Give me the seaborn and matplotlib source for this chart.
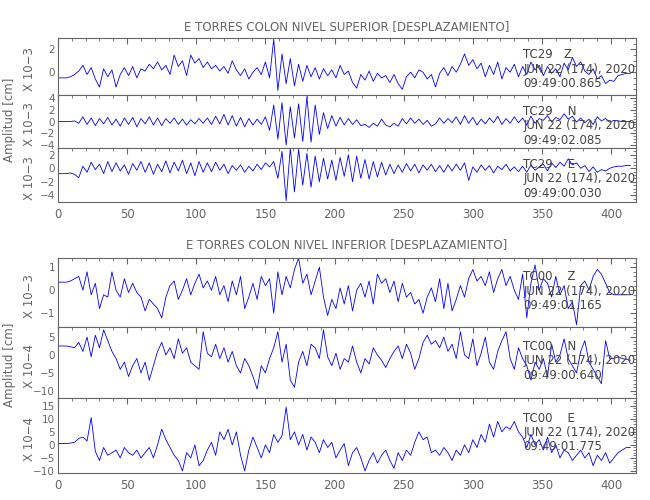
import numpy as np
import pandas as pd
import matplotlib
matplotlib.use("Agg")
import matplotlib.pyplot as plt
import seaborn as sns

sns.set_style("white")
plt.rcParams['font.family'] = ['DejaVu Sans']

step = 3.0
z29 = [-0.5,-0.5,-0.5,-0.4,-0.2,
 0.1,0.6,-0.2,0.4,-0.6,-1.3,0.3,-0.4,0.2,-1.3,-0.2,0.4,-0.3,0.5,-0.5,0.3,0.1,0.7,0.3,0.9,0.2,0.6,-0.2,1.5,0.5,1.0,-0.3,1.5,0.8,1.2,0.4,
 0.9,0.3,0.6,0.1,0.5,-0.1,1.0,0.2,-0.3,0.3,-0.6,0.0,0.4,-0.2,0.9,
 -0.5,2.9,-1.6,1.6,-1.0,1.2,-1.2,0.7,-0.8,0.6,-0.4,0.4,-0.6,0.3,-0.3,
 0.2,-0.5,0.6,-0.2,0.1,-0.9,-1.4,-0.2,-0.7,0.1,-0.8,-0.1,-0.5,-0.3,-0.9,
 -0.2,-1.0,-1.5,-0.4,0.0,-0.5,0.2,0.0,-0.6,-0.2,-1.3,-0.1,0.4,-0.3,0.5,
 0.0,0.7,1.6,0.6,1.1,0.3,0.8,-0.4,0.6,-0.2,0.9,-0.6,0.4,0.0,0.7,
 -0.4,0.5,-0.2,0.9,0.2,0.6,-0.3,0.5,-0.1,0.3,-0.4,0.8,0.2,1.3,0.5,
 0.9,0.1,-0.2,0.3,-0.6,-0.3,-1.0,-0.7,-0.8,-0.3,-0.2,-0.1,-0.1]
n29 = [0,0,0,0,0.1,
 -0.3,0.8,-0.5,0.6,-0.7,0.5,-0.4,0.7,-0.6,0.4,-0.8,0.6,-0.5,0.7,-0.9,0.5,-0.4,0.8,-0.6,0.6,-0.7,0.5,-0.3,0.6,-0.5,0.4,-0.6,0.3,-0.4,0.5,-0.3,
 0.6,-0.5,0.9,-0.4,1.2,-0.6,1.0,-0.8,0.7,-0.9,0.5,-0.6,0.4,-0.5,0.8,
 -1.5,2.8,-3.0,3.2,-4.0,2.5,-2.8,3.0,-3.4,4.2,-3.5,2.8,-2.2,1.5,-1.2,
 1.0,-0.8,0.7,-0.6,0.5,-0.5,0.3,-0.7,-0.5,-1.0,-0.3,-0.8,0.4,-0.6,-0.9,
 -0.3,-0.8,0.5,-0.4,0.6,-0.3,0.4,-0.5,0.2,-0.8,-0.4,0.6,-0.3,0.5,-0.2,
 0.8,-0.5,1.0,-0.3,0.7,-0.6,0.4,-0.4,0.6,-0.2,0.9,-0.5,0.5,-0.3,0.8,
 -0.2,0.6,-0.6,0.9,-0.3,0.5,0.2,1.0,-0.1,0.7,0.3,1.3,0.4,0.9,-0.1,
 0.6,-0.2,0.4,-0.5,0.8,0.1,0.5,-0.1,0.2,0.1,0.0,0.0,0.0]
e29 = [-0.8,-0.8,-0.8,-0.7,-0.9,
 -1.4,0.3,-0.6,0.9,-0.2,0.6,-0.8,1.0,-0.5,0.8,-0.4,0.5,-0.9,0.7,-0.3,1.0,-0.6,0.8,-0.9,0.6,-0.5,1.1,-0.7,0.9,-0.4,1.2,-0.8,0.8,-1.1,1.0,-0.6,
 0.8,-0.5,0.9,-0.3,0.6,-0.8,0.4,-0.3,0.5,-0.6,0.3,-0.4,0.6,-0.2,0.8,
 0.2,1.0,-1.5,2.5,-4.8,3.0,-3.5,2.8,-2.5,2.2,-2.8,1.8,-2.0,1.5,-1.6,
 1.2,-1.8,1.6,-1.2,2.0,-2.0,1.8,-1.5,1.3,-1.6,1.0,-1.3,0.9,-1.0,0.6,
 -0.8,0.5,-0.6,0.7,-0.4,0.6,-0.7,0.5,-0.3,0.6,-0.5,0.4,-0.6,0.5,-0.4,
 0.6,-0.3,0.8,-1.8,0.2,-0.6,0.5,-0.3,0.4,-0.7,0.3,-0.2,0.6,-0.4,0.2,
 -0.5,0.3,-0.6,0.5,-0.3,0.2,0.6,-0.4,0.8,0.1,0.9,0.3,1.4,0.5,0.8,
 0.0,0.4,-0.5,0.2,-0.6,-0.2,-0.4,0.0,0.2,0.3,0.3,0.4,0.4]
z00 = [0.35,0.35,0.35,0.4,0.5,
 0.6,0.0,0.8,-0.2,0.3,-0.8,-0.2,-0.3,0.8,0.0,-0.3,0.5,-0.1,0.3,-0.1,-0.3,-0.9,-0.4,-0.6,-0.8,-1.2,-0.3,0.2,0.4,-0.4,0.0,0.5,-0.2,0.3,0.7,0.1,
 0.4,0.0,0.6,-0.2,0.2,-0.5,0.4,-0.2,0.6,-0.8,-0.3,0.3,-0.4,0.6,0.2,
 0.5,-1.0,0.8,-0.2,0.6,0.1,0.9,1.4,0.3,0.7,-0.2,0.4,1.0,-0.3,-1.1,
 -0.4,-0.8,0.1,-0.6,0.2,-0.9,0.0,0.3,-0.3,0.4,-0.6,0.7,0.3,0.5,-0.1,
 0.4,-0.5,0.3,-0.3,-0.1,-0.6,-0.4,-1.0,-0.3,0.1,-0.5,0.5,-0.8,0.3,-0.9,
 -0.4,0.2,-0.3,0.5,0.9,0.4,0.6,0.2,0.8,-0.1,0.5,0.9,0.2,0.6,0.0,
 -0.4,0.7,-1.2,0.3,1.1,0.0,0.5,0.3,-0.3,0.6,-0.2,0.2,-0.8,-0.5,-1.5,
 0.2,0.4,0.0,0.6,0.9,0.7,0.3,-0.1,-0.2,-0.2,-0.2,-0.2,-0.2]
n00 = [2.5,2.5,2.5,2.3,2.0,
 3.5,1.0,5.0,-0.5,5.5,2.0,7.0,4.0,1.0,-1.0,-4.0,-2.0,-6.0,-3.0,-1.0,-5.0,-2.0,-7.0,-3.0,1.0,3.5,0.0,2.0,-1.0,4.5,0.5,2.0,-2.0,-3.0,-4.0,6.5,
 0.5,-0.5,3.0,-1.0,2.0,-2.0,1.0,-3.0,-5.0,-1.0,-3.0,-6.0,-9.5,-3.0,-5.0,
 -1.0,2.0,6.5,-2.0,3.0,-7.0,-9.0,-2.0,1.0,-3.0,3.0,2.0,-1.0,7.0,-0.5,
 -3.0,0.5,-4.0,-1.0,-2.0,2.5,-2.0,-5.0,-1.0,-2.5,2.0,0.0,-1.5,-3.5,-1.0,
 1.0,2.5,-1.0,3.0,0.5,-4.0,-1.0,3.5,5.5,3.0,4.0,2.0,5.0,1.0,3.0,
 -1.0,6.5,0.0,-1.0,4.5,-3.0,0.5,5.0,-2.0,-4.0,1.0,4.0,6.5,-1.0,-4.0,
 2.0,-1.0,-3.0,-7.0,-2.0,-4.0,-1.0,-6.0,3.0,-2.0,0.0,4.5,-1.0,-3.0,-5.0,
 1.0,4.0,-2.0,-4.0,-6.0,-8.0,4.0,-1.0,-1.0,-0.5,-1.0,-1.2,-1.5]
e00 = [0.5,0.5,0.5,0.7,1.0,
 2.5,3.0,1.5,10.5,-2.5,-6.0,-1.0,-4.0,-3.0,-2.0,-5.0,-1.0,-3.0,-4.0,-2.0,-5.0,-3.0,-1.0,-5.0,0.0,6.0,2.0,-1.0,-4.0,-6.0,-10.0,-3.0,-5.0,0.0,-8.0,-6.0,
 -2.0,1.0,-4.0,5.0,2.0,6.0,0.0,5.0,-4.0,-10.0,-2.0,3.0,-1.0,-5.0,0.0,
 -3.0,4.0,1.0,3.5,14.5,2.0,5.0,0.0,4.0,-2.0,3.0,1.0,-3.0,2.0,-1.0,
 1.0,-5.0,-2.0,0.5,-8.0,-3.0,-1.0,-5.0,-10.0,-6.0,-3.0,-7.0,-4.0,-2.0,-6.0,
 -9.0,-3.0,-6.0,-2.0,-4.0,1.0,5.0,2.0,3.0,-3.0,-2.0,-4.0,-1.0,-3.0,-6.0,
 -2.0,-4.0,0.0,-3.0,2.0,-1.0,4.0,1.0,8.0,3.0,9.0,5.0,7.0,6.0,9.0,
 5.0,3.0,-1.0,4.0,0.0,2.0,-2.0,3.0,-3.0,0.0,-5.0,-2.0,-3.0,-6.0,-4.0,
 -2.0,-5.0,-3.0,-8.0,-4.0,-6.0,-3.0,-7.0,-5.0,-3.0,-2.0,-1.0,-1.0]

titles = ["E TORRES COLON NIVEL SUPERIOR [DESPLAZAMIENTO]",
          "E TORRES COLON NIVEL INFERIOR [DESPLAZAMIENTO]"]
stations = ["TC29   Z", "TC29    N", "TC29    E", "TC00    Z", "TC00    N", "TC00    E"]
dates = "JUN 22 (174), 2020"
times = ["09:49:00.865", "09:49:02.085", "09:49:00.030",
         "09:49:01.165", "09:49:00.640", "09:49:01.775"]
exps = ["X 10\u22123", "X 10\u22123", "X 10\u22123", "X 10\u22123", "X 10\u22124", "X 10\u22124"]
series = [z29, n29, e29, z00, n00, e00]
ylims = [(-2.0, 3.0), (-4.5, 4.5), (-5.0, 3.0), (-1.6, 1.4), (-12.0, 7.8), (-10.8, 18.0)]
yticks = [[0, 2], [-4, -2, 0, 2, 4], [-4, -2, 0, 2], [-1, 0, 1], [-10, -5, 0, 5], [-10, -5, 0, 5, 10, 15]]
bounds = [(38, 95), (95, 148), (148, 202), (258, 327), (327, 398), (398, 473)]

W, H = 650, 500
fig = plt.figure(figsize=(6.5, 5), dpi=100)
gray = "#666666"
L, R = 58, 636
for i, (vals, (t, b)) in enumerate(zip(series, bounds)):
    ax = fig.add_axes([L / W, 1 - b / H, (R - L) / W, (b - t) / H])
    df = pd.DataFrame({"t": np.arange(len(vals)) * step, "v": vals})
    sns.lineplot(data=df, x="t", y="v", ax=ax, color="#0000ff", lw=0.6)
    ax.set_xlim(0, 418)
    ax.set_ylim(*ylims[i])
    ax.set_yticks(yticks[i])
    ax.set_xticks(range(0, 401, 50))
    ax.set_xlabel("")
    ax.set_ylabel(exps[i], color=gray, fontsize=8.5)
    ax.yaxis.set_label_coords(-0.038, 0.45)
    ax.tick_params(direction="in", length=4, colors=gray, labelsize=7.5,
                   top=True, right=True, pad=2)
    ax.minorticks_on()
    ax.tick_params(which="minor", direction="in", length=2, colors=gray, top=True, right=True)
    for s in ax.spines.values():
        s.set_color(gray); s.set_linewidth(0.8)
    if i not in (2, 5):
        ax.set_xticklabels([])
    else:
        ax.tick_params(axis="x", labelsize=8.5, pad=4)
    ax.text(0.805, 0.82, stations[i] + "\n" + dates + "\n" + times[i], transform=ax.transAxes,
            va="top", ha="left", fontsize=8.5, color="#444444", linespacing=1.15)

fig.text((L + R) / 2 / W, 1 - 27 / H, titles[0], ha="center", va="center", fontsize=8.5, color=gray)
fig.text((L + R) / 2 / W, 1 - 245 / H, titles[1], ha="center", va="center", fontsize=8.5, color=gray)
fig.text(10 / W, 1 - 120 / H, "Amplitud [cm]", rotation=90, ha="center", va="center", fontsize=8.5, color=gray)
fig.text(10 / W, 1 - 365 / H, "Amplitud [cm]", rotation=90, ha="center", va="center", fontsize=8.5, color=gray)

fig.savefig("out.png", dpi=100)
